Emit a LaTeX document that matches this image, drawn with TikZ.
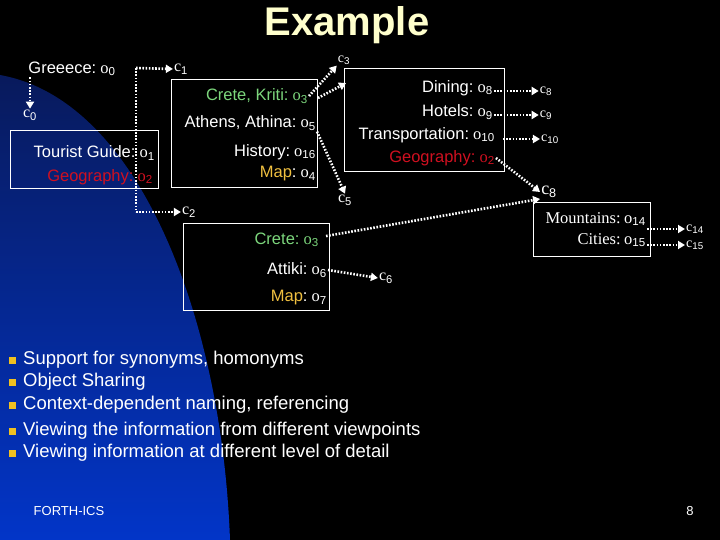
\documentclass[tikz,border=0pt]{standalone}
\usepackage{fontspec}
\setmainfont{Liberation Sans}
\newfontfamily\serf{Liberation Serif}
\usetikzlibrary{arrows.meta}
\definecolor{dblue}{HTML}{081A5C}
\definecolor{bblue}{HTML}{0235C8}
\definecolor{tgreen}{HTML}{7CD67C}
\definecolor{tred}{HTML}{D01020}
\definecolor{torange}{HTML}{F0C040}
\definecolor{tcream}{HTML}{FFFFCC}
\definecolor{byel}{HTML}{F0C020}
\newcommand{\ob}[1]{\hspace{-2pt}{\serf o$_{\mathrm{#1}}$}}
\newcommand{\cb}[1]{{\serf c$_{\mathrm{#1}}$}}
\begin{document}
\begin{tikzpicture}[x=1pt,y=1pt,
  box/.style={draw=white,line width=0.8pt},
  lbl/.style={text=white,font=\fontsize{16.5}{18}\selectfont,inner sep=1pt},
  rl/.style={lbl,anchor=east},
  cl/.style={text=white,font=\fontsize{16}{17}\selectfont,inner sep=1pt},
  arr/.style={white,line width=2.6pt,dash pattern=on 1.6pt off 1.6pt,-{Triangle[length=7pt,width=8pt]}},
  bul/.style={text=white,anchor=west,font=\fontsize{18.5}{20}\selectfont,inner sep=0pt}]
\useasboundingbox (0,0) rectangle (720,-540);
\fill[black] (0,0) rectangle (720,-540);
\shade[top color=dblue,bottom color=bblue] (0,-75) .. controls (140,-100) and (222,-320) .. (230,-540) -- (0,-540) -- cycle;
\node[text=tcream,font=\bfseries\fontsize{40}{44}\selectfont] (title) at (347,-25) {Example};
% boxes
\draw[box] (10,-130) rectangle (158,-188);
\draw[box] (171,-79) rectangle (317,-187);
\draw[box] (183,-223) rectangle (329,-310);
\draw[box] (344,-68) rectangle (504,-171);
\draw[box] (533,-202) rectangle (650,-256);
% labels
\node[lbl] (g0) at (72,-69) {Greeece: \ob0};
\node[cl] (c0) at (30,-115) {\cb0};
\node[rl] (tg) at (156,-153) {Tourist Guide: \ob1};
\node[rl,text=tred] (geo1) at (154,-177) {Geography: \ob2};
\node[cl] (c1) at (181,-69) {\cb1};
\node[cl] (c2) at (189,-212) {\cb2};
\node[cl,font=\fontsize{14}{15}\selectfont] (c3) at (344,-60) {\cb3};
\node[rl,text=tgreen] (ck) at (309,-96) {Crete, Kriti: \ob3};
\node[rl] (ath) at (317,-123) {Athens, Athina: \ob5};
\node[rl] (his) at (317,-152) {History: \ob{16}};
\node[rl] (map1) at (317,-174) {\textcolor{torange}{Map}: \ob4};
\node[cl] (c5) at (345,-200) {\cb5};
\node[rl,text=tgreen] (cr) at (320,-240) {Crete: \ob3};
\node[rl] (att) at (328,-270) {Attiki: \ob6};
\node[rl] (map2) at (328,-298) {\textcolor{torange}{Map}: \ob7};
\node[cl] (c6) at (386,-278) {\cb6};
\node[rl] (din) at (494,-88) {Dining: \ob8};
\node[rl] (hot) at (494,-112) {Hotels: \ob9};
\node[rl] (tra) at (496,-135) {Transportation: \ob{10}};
\node[rl,text=tred] (geo2) at (496,-158) {Geography: \ob2};
\node[cl,font=\fontsize{14}{15}\selectfont] (c8a) at (546,-91) {\cb8};
\node[cl,font=\fontsize{14}{15}\selectfont] (c9) at (546,-115) {\cb9};
\node[cl,font=\fontsize{14}{15}\selectfont] (c10) at (550,-139) {\cb{10}};
\node[cl,font=\fontsize{18}{19}\selectfont] (c8b) at (549,-192) {\cb8};
\node[rl,font=\serf\fontsize{16.5}{18}\selectfont] (mou) at (647,-219) {Mountains: \ob{14}};
\node[rl,font=\serf\fontsize{16.5}{18}\selectfont] (cit) at (647,-240) {Cities: \ob{15}};
\node[cl,font=\fontsize{14}{15}\selectfont] (c14) at (695,-229) {\cb{14}};
\node[cl,font=\fontsize{14}{15}\selectfont] (c15) at (695,-245) {\cb{15}};
% connectors
\coordinate (vt) at (136,-68);
\coordinate (vb) at (136,-212);
\coordinate (ck2) at (318,-98);
\coordinate (b3) at (346,-83);
\coordinate (cr2) at (326,-236);
\coordinate (tr2) at (503,-139);
\draw[arr] (g0.south -| c0) -- (c0.north);
\draw[white,line width=2.6pt,dash pattern=on 1.6pt off 1.6pt] (vt) -- (vb);
\draw[arr] (vt) -- (c1.west);
\draw[arr] (vb) -- (c2.west);
\draw[arr] (ck.east) -- (c3.south west);
\draw[arr] (ck2) -- (b3);
\draw[arr] (ath.south east) -- (c5.north);
\draw[arr] (cr2) -- (c8b.south west);
\draw[arr] (att.east) -- (c6.west);
\draw[arr] (din.east |- c8a.west) -- (c8a.west);
\draw[arr] (hot.east |- c9.west) -- (c9.west);
\draw[arr] (tr2) -- (c10.west);
\draw[arr] (geo2.east) -- (c8b.west);
\draw[arr] (mou.east |- c14.west) -- (c14.west);
\draw[arr] (cit.east |- c15.west) -- (c15.west);
% bullets
\foreach \y/\t [count=\i] in {-360/{Support for synonyms, homonyms},-382/{Object Sharing},-405/{Context-dependent naming, referencing},-431/{Viewing the information from different viewpoints},-453/{Viewing information at different level of detail}}{
  \fill[byel] (9,\y-4) rectangle (16,\y+3);
  \node[bul] (b\i) at (23,\y) {\t};
}
\node[text=white,font=\fontsize{13}{14}\selectfont] (forth) at (69,-511) {FORTH-ICS};
\node[text=white,font=\fontsize{13}{14}\selectfont] (pg) at (690,-511) {8};
\end{tikzpicture}
\end{document}
